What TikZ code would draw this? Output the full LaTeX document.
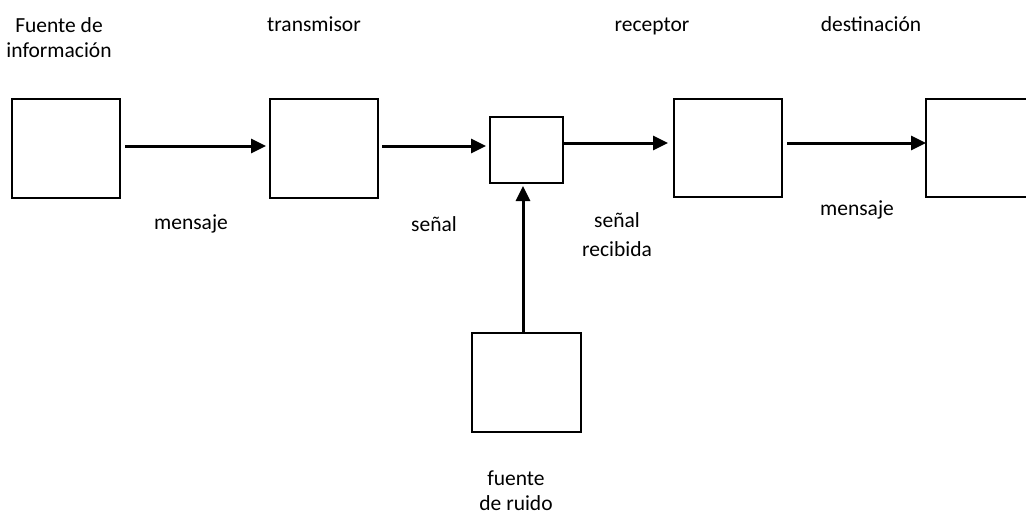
\documentclass[tikz,border=0pt]{standalone}
\usepackage{fontspec}
\setmainfont{Carlito}
\usetikzlibrary{arrows.meta}

\begin{document}
\begin{tikzpicture}[x=1pt,y=-1pt,font=\fontsize{21.5}{25}\selectfont,
  block/.style={draw,line width=2pt,inner sep=0pt,outer sep=0pt,minimum width=108pt,minimum height=99pt},
  lbl/.style={anchor=base,inner sep=0pt,align=center},
  flow/.style={line width=3pt,-{Triangle[length=15pt,width=14pt]}}]
\clip (0,0) rectangle (1026,511);
% bloques
\node[block] (src) at (66,148.5) {};
\node[block] (tx) at (324,148.5) {};
\node[block,minimum width=73pt,minimum height=66pt] (mix) at (526.5,150) {};
\node[block,minimum height=98pt] (rx) at (728,148) {};
\node[block,minimum height=98pt] (dst) at (980,148) {};
\node[block,minimum width=109pt] (noise) at (526.5,382.5) {};
% textos (base = ultima linea)
\node[lbl] (tsrc) at (59,58) {Fuente de\\información};
\node[lbl] (ttx) at (314,32) {transmisor};
\node[lbl] (trx) at (652,32) {receptor};
\node[lbl] (tdst) at (871,32) {destinación};
\node[lbl] (m1) at (191,229) {mensaje};
\node[lbl] (s1) at (434,231) {señal};
\node[lbl] (s2) at (617,256) {señal\\[4pt]recibida};
\node[lbl] (m2) at (857,215) {mensaje};
\node[lbl] (tnoise) at (516,510) {fuente\\de ruido};
% flechas
\draw[flow,shorten <=5pt,shorten >=4pt] ([yshift=2.5pt]src.east) -- ([yshift=2.5pt]tx.west);
\draw[flow,shorten <=4pt,shorten >=4pt] ([yshift=2.5pt]tx.east) -- ([yshift=4pt]mix.west);
\draw[flow,shorten >=6pt] ([yshift=7pt]mix.east) -- ([yshift=5pt]rx.west);
\draw[flow,shorten <=5pt] ([yshift=5pt]rx.east) -- ([yshift=5pt]dst.west);
\draw[flow,shorten >=3pt] ([xshift=-3.5pt]noise.north) -- ([xshift=-3.5pt]mix.south);
\end{tikzpicture}
\end{document}
